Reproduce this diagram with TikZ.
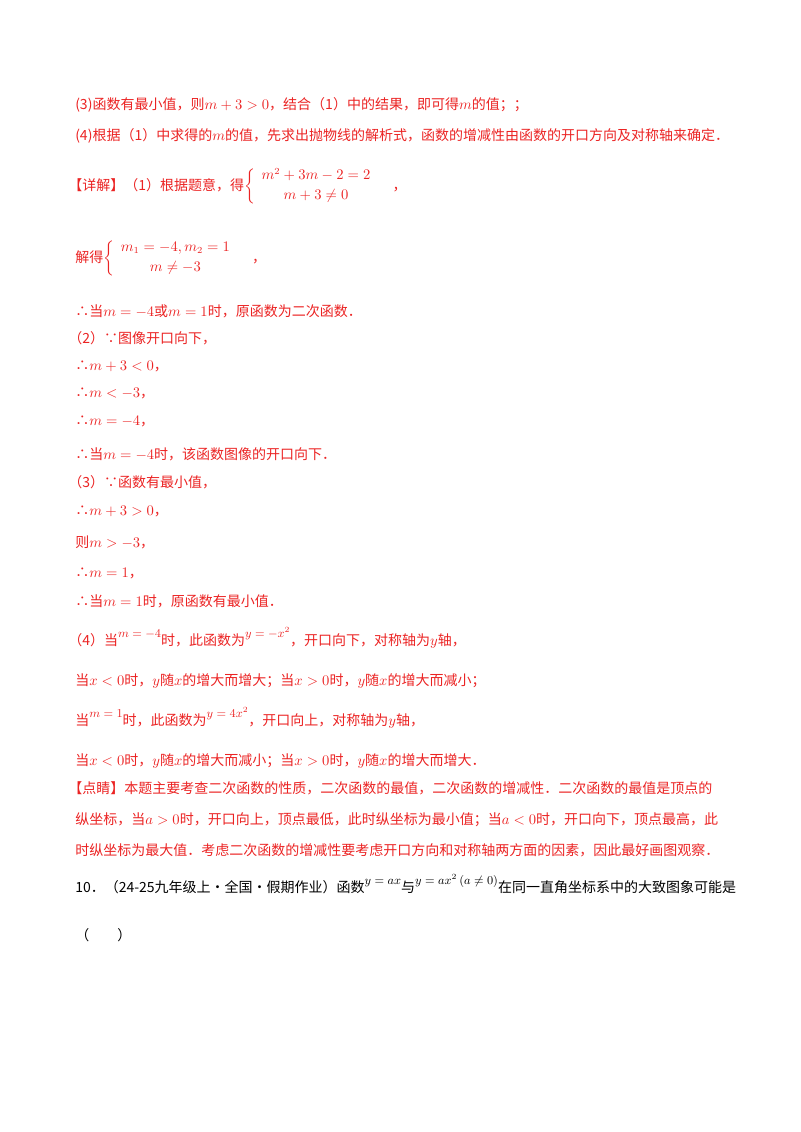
\documentclass[tikz,border=0pt]{standalone}
\usepackage{amsmath}
\usepackage{fontspec}
\newfontfamily\cjk{Noto Sans CJK SC}
\usepackage{xcolor}
\definecolor{ansred}{RGB}{235,35,35}
\newcommand{\up}[1]{\raisebox{1.0ex}{\small$#1$}}

\begin{document}
\begin{tikzpicture}[x=0.75pt, y=-0.75pt]

\tikzset{line/.style={anchor=base west, inner sep=0pt, text=ansred, font=\cjk\fontsize{10.5pt}{12pt}\selectfont}}
\tikzset{black-line/.style={line, text=black}}

\useasboundingbox (0,0) rectangle (800,1132);

% hints
\node[line] (hint3) at (75,109) {(3)函数有最小值，则$m+3>0$，结合（1）中的结果，即可得$m$的值；；};
\node[line] (hint4) at (75,140) {(4)根据（1）中求得的$m$的值，先求出抛物线的解析式，函数的增减性由函数的开口方向及对称轴来确定．};

% solution
\node[line] (sol1) at (68,190) {【详解】（1）根据题意，得$\left\{\begin{array}{c}m^2+3m-2=2\\[3pt] m+3\neq 0\end{array}\right.$\quad ，};
\node[line] (sol2) at (75,262) {解得$\left\{\begin{array}{c}m_1=-4,m_2=1\\[3pt] m\neq -3\end{array}\right.$\quad ，};
\node[line] (sol3) at (75,316) {∴当$m=-4$或$m=1$时，原函数为二次函数．};
\node[line] (sol4) at (68,343) {（2）∵图像开口向下，};
\node[line] (sol5) at (75,370) {∴$m+3<0$，};
\node[line] (sol6) at (75,397) {∴$m<-3$，};
\node[line] (sol7) at (75,425) {∴$m=-4$，};
\node[line] (sol8) at (75,459) {∴当$m=-4$时，该函数图像的开口向下．};
\node[line] (sol9) at (68,487) {（3）∵函数有最小值，};
\node[line] (sol10) at (75,515) {∴$m+3>0$，};
\node[line] (sol11) at (75,547) {则$m>-3$，};
\node[line] (sol12) at (75,577) {∴$m=1$，};
\node[line] (sol13) at (75,606) {∴当$m=1$时，原函数有最小值．};
\node[line] (sol14) at (68,645) {（4）当\up{m=-4}时，此函数为\up{y=-x^2}，开口向下，对称轴为$y$轴，};
\node[line] (sol15) at (75,685) {当$x<0$时，$y$随$x$的增大而增大；当$x>0$时，$y$随$x$的增大而减小；};
\node[line] (sol16) at (75,725) {当\up{m=1}时，此函数为\up{y=4x^2}，开口向上，对称轴为$y$轴，};
\node[line] (sol17) at (75,765) {当$x<0$时，$y$随$x$的增大而减小；当$x>0$时，$y$随$x$的增大而增大．};

% comment
\node[line] (cmt1) at (68,793) {【点睛】本题主要考查二次函数的性质，二次函数的最值，二次函数的增减性．二次函数的最值是顶点的};
\node[line] (cmt2) at (75,824) {纵坐标，当$a>0$时，开口向上，顶点最低，此时纵坐标为最小值；当$a<0$时，开口向下，顶点最高，此};
\node[line] (cmt3) at (75,855) {时纵坐标为最大值．考虑二次函数的增减性要考虑开口方向和对称轴两方面的因素，因此最好画图观察．};

% next question
\node[black-line] (q10) at (75,892) {10．（24-25九年级上·全国·假期作业）函数\up{y=ax}与\up{y=ax^2\left(a\neq0\right)}在同一直角坐标系中的大致图象可能是};
\node[black-line] (blank) at (75,940) {（\qquad）};

\end{tikzpicture}
\end{document}
